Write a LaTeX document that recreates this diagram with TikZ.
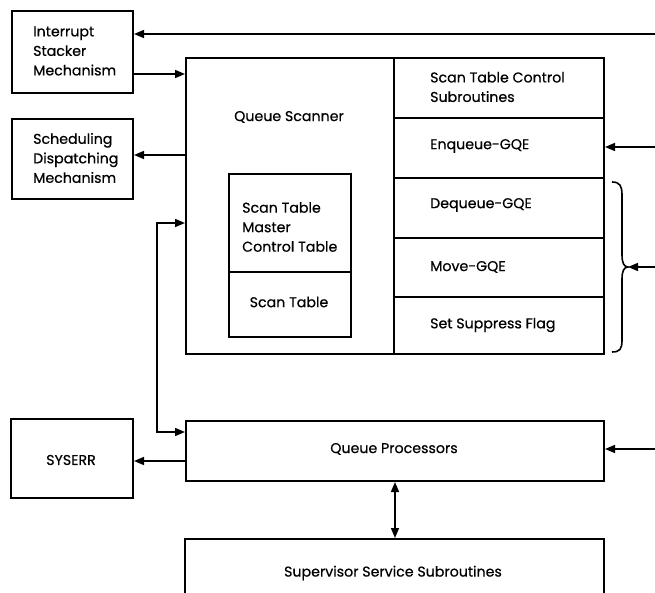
\documentclass[tikz,border=0pt]{standalone}
\usepackage{fontspec}
\setmainfont{Poppins}[FakeBold=0.6]
\usetikzlibrary{arrows.meta,calc}
\begin{document}
\begin{tikzpicture}[x=1pt,y=-1pt,
  box/.style={draw, line width=2pt, rectangle, inner sep=0pt, anchor=north west},
  lbl/.style={font=\fontsize{14.2}{19.5}\selectfont, inner sep=0pt, align=left},
  arr/.style={line width=1.5pt, -{Triangle[length=10pt,width=8pt]}},
  arrboth/.style={line width=1.5pt, {Triangle[length=10pt,width=8pt]}-{Triangle[length=10pt,width=8pt]}},
]
\useasboundingbox (0,0) rectangle (655,593);
\clip (0,0) rectangle (655,593);

% boxes
\node[box, minimum width=121, minimum height=82] (isr) at (11,10) {};
\node[box, minimum width=121, minimum height=80] (sdm) at (11,118) {};
\node[box, minimum width=208, minimum height=296] (qs) at (185,57) {};
\node[box, minimum width=122, minimum height=98] (stm) at (228,173) {};
\node[box, minimum width=122, minimum height=65] (stb) at (228,271) {};
\node[box, minimum width=210, minimum height=60] (stc) at (393,57) {};
\node[box, minimum width=210, minimum height=60] (enq) at (393,117) {};
\node[box, minimum width=210, minimum height=60] (deq) at (393,177) {};
\node[box, minimum width=210, minimum height=59] (mov) at (393,237) {};
\node[box, minimum width=210, minimum height=57] (ssf) at (393,296) {};
\node[box, minimum width=122, minimum height=79] (syserr) at (10,418) {};
\node[box, minimum width=418, minimum height=60] (qp) at (185,420) {};
\node[box, minimum width=419, minimum height=90] (sss) at (184,538) {};

% texts
\node[lbl, anchor=west] (isrt) at (33,51) {Interrupt\\Stacker\\Mechanism};
\node[lbl, anchor=west] (sdmt) at (33,158) {Scheduling\\Dispatching\\Mechanism};
\node[lbl] (qst) at (289,117) {Queue Scanner};
\node[lbl, anchor=west] (stmt) at (242,227) {Scan Table\\Master\\Control Table};
\node[lbl] (stbt) at (289,302) {Scan Table};
\node[lbl, anchor=west] (stct) at (430,87) {Scan Table Control\\Subroutines};
\node[lbl, anchor=west] (enqt) at (430,146) {Enqueue-GQE};
\node[lbl, anchor=west] (deqt) at (430,205) {Dequeue-GQE};
\node[lbl, anchor=west] (movt) at (430,267) {Move-GQE};
\node[lbl, anchor=west] (ssft) at (430,325) {Set Suppress Flag};
\node[lbl] (syserrt) at (71,460) {SYSERR};
\node[lbl] (qpt) at (394,449) {Queue Processors};
\node[lbl] (ssst) at (393,573) {Supervisor Service Subroutines};

% free ends
\coordinate (in1) at (655,34);
\coordinate (in2) at (655,147);
\coordinate (in3) at (655,267);
\coordinate (in4) at (655,449);
\coordinate (bt) at (628,267);
\coordinate (fb) at (157,223);

% connectors
\draw[arr] (in1) -- (isr.east |- in1);
\draw[arr] (isr.east |- 0,74) -- (qs.west |- 0,74);
\draw[arr] (qs.west |- 0,155) -- (sdm.east |- 0,155);
\draw[arr] (in2) -- (enq.east |- in2);
\draw[arr] (in3) -- (bt);
\draw[arr] (in4) -- (qp.east |- in4);
\draw[arr] (qp.west |- 0,461) -- (syserr.east |- 0,461);
\draw[arrboth] (qs.west |- fb) -- (fb) |- (qp.west |- 0,432);
\draw[arrboth] (qp.south) -- (qp.south |- sss.north);

% brace
\draw[line width=1.6pt] (612,182) .. controls (620,182) and (622,186) .. (622,195) -- (622,255)
  .. controls (622,263) and (624,267) .. (bt)
  .. controls (624,267) and (622,271) .. (622,279) -- (622,340)
  .. controls (622,349) and (620,352) .. (612,352);
\end{tikzpicture}
\end{document}
